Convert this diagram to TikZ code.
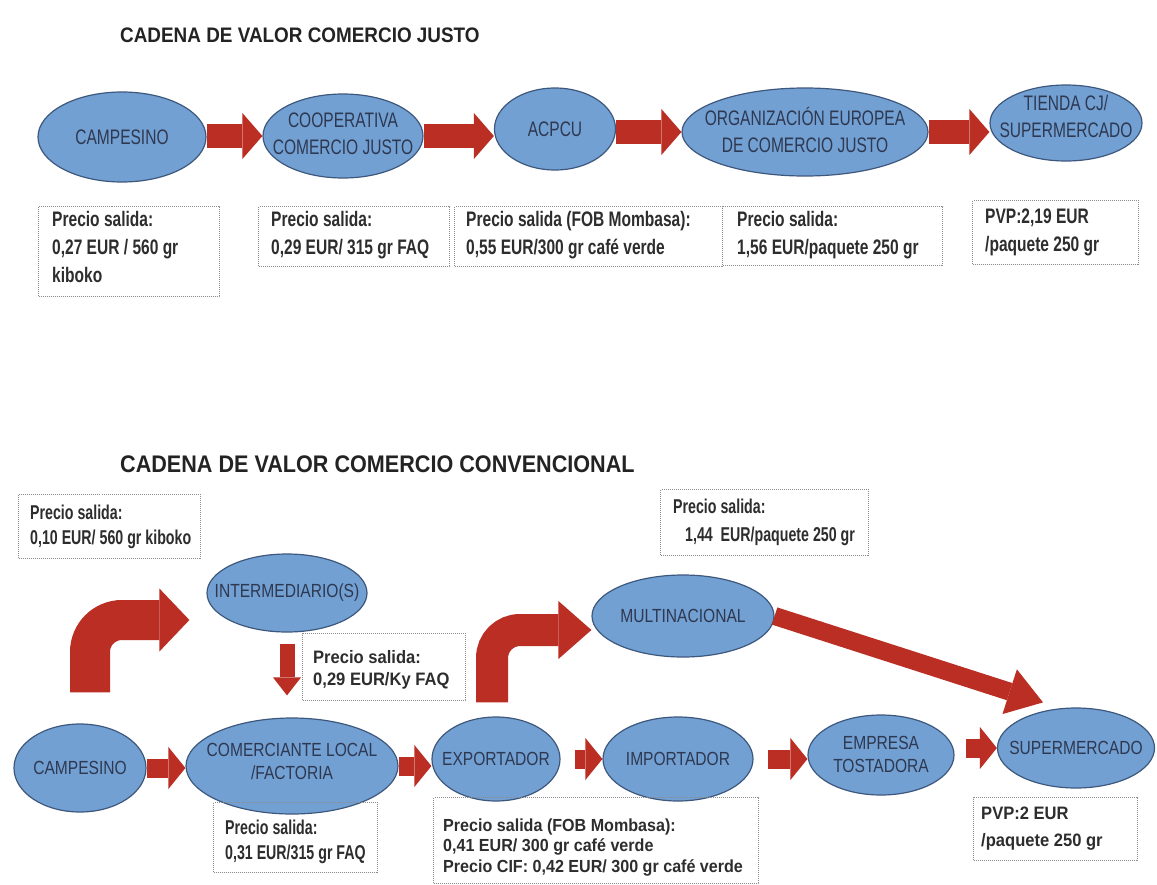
\documentclass[tikz,border=0pt]{standalone}
\usepackage{fontspec}
\setmainfont{Liberation Sans}
\newfontfamily\headfont[FakeStretch=0.9]{Liberation Sans}
\newfontfamily\ovaltopfont[FakeStretch=0.74]{Liberation Sans}
\newfontfamily\ovalbotfont[FakeStretch=0.82]{Liberation Sans}
\newfontfamily\notetopfont[FakeStretch=0.74]{Liberation Sans}
\newfontfamily\notebotfont[FakeStretch=0.92]{Liberation Sans}
\newfontfamily\notenarrowfont[FakeStretch=0.71]{Liberation Sans}
\usetikzlibrary{arrows.meta,shapes.geometric}

\definecolor{ovalfill}{RGB}{114,160,211}
\definecolor{ovalline}{RGB}{62,88,125}
\definecolor{ovaltext}{RGB}{46,56,80}
\definecolor{flowred}{RGB}{186,46,36}
\definecolor{boxline}{RGB}{140,140,140}
\definecolor{boxtext}{RGB}{45,45,45}
\definecolor{headgray}{RGB}{35,35,35}

\begin{document}
\begin{tikzpicture}[x=1pt,y=-1pt,
  oval/.style={ellipse, draw=ovalline, line width=1.2pt, fill=ovalfill, inner sep=0pt},
  otop/.style={font=\ovaltopfont\fontsize{21}{27}\selectfont, text=ovaltext, align=center, inner sep=0pt},
  obot/.style={font=\ovalbotfont\fontsize{19}{23}\selectfont, text=ovaltext, align=center, inner sep=0pt},
  pricebox/.style={draw=boxline, densely dotted, line width=1pt, anchor=north west, inner sep=0pt},
  ptxt/.style={anchor=west, inner sep=0pt, align=left, text=boxtext},
  ptop/.style={ptxt, font=\notetopfont\bfseries\fontsize{21}{28}\selectfont},
  pbot/.style={ptxt, font=\notebotfont\bfseries\fontsize{18}{25}\selectfont},
  pnarrow/.style={ptxt, font=\notenarrowfont\bfseries\fontsize{20}{25}\selectfont},
  head/.style={anchor=west, inner sep=0pt, text=headgray},
  flowtop/.style={draw=flowred, line width=24pt, -{Triangle[length=20pt,width=46pt,line width=0pt]}},
  flowbot/.style={draw=flowred, line width=19pt, -{Triangle[length=17pt,width=42pt,line width=0pt]}},
  bentflow/.style={draw=flowred, -{Triangle[length=#1,line width=0pt]}},
]
\fill[white] (0,0) rectangle (1157,884);
\useasboundingbox (0,0) rectangle (1157,884);

% ---------- fair trade chain ----------
\node[head, font=\headfont\bfseries\fontsize{21}{25}\selectfont] (title1) at (120,35) {CADENA DE VALOR COMERCIO JUSTO};

\node[oval, minimum width=168pt, minimum height=90pt, label={[otop]center:CAMPESINO}] (camp1) at (122,137) {};
\node[oval, minimum width=160pt, minimum height=84pt, label={[otop, yshift=2pt]center:{COOPERATIVA\\COMERCIO JUSTO}}] (coop) at (343,136) {};
\node[oval, minimum width=121pt, minimum height=82pt, label={[otop]center:ACPCU}] (acpcu) at (555,129) {};
\node[oval, minimum width=246pt, minimum height=88pt, label={[otop, yshift=2pt]center:{ORGANIZACIÓN EUROPEA\\DE COMERCIO JUSTO}}] (oecj) at (805,132) {};
\node[oval, minimum width=152pt, minimum height=76pt, label={[otop, yshift=7pt]center:{TIENDA CJ/\\SUPERMERCADO}}] (tienda) at (1066,123) {};

\draw[flowtop] (camp1.east |- coop.west) -- (coop.west);
\draw[flowtop] (coop.east) -- (coop.east -| acpcu.west);
\draw[flowtop] (acpcu.east |- oecj.west) -- (oecj.west);
\draw[flowtop] (oecj.east) -- (oecj.east -| tienda.west);

\node[pricebox, minimum width=181pt, minimum height=90pt] (pt1) at (38,206) {};
\node[ptop] (pt1txt) at ([xshift=14pt, yshift=5pt]pt1.west) {Precio salida:\\0,27 EUR / 560 gr\\kiboko};
\node[pricebox, minimum width=191pt, minimum height=60pt] (pt2) at (258,206) {};
\node[ptop] (pt2txt) at ([xshift=13pt, yshift=1pt]pt2.west) {Precio salida:\\0,29 EUR/ 315 gr FAQ};
\node[pricebox, minimum width=268pt, minimum height=60pt] (pt3) at (454,206) {};
\node[ptop] (pt3txt) at ([xshift=12pt, yshift=1pt]pt3.west) {Precio salida (FOB Mombasa):\\0,55 EUR/300 gr café verde};
\node[pricebox, minimum width=220pt, minimum height=59pt] (pt4) at (722,206) {};
\node[ptop] (pt4txt) at ([xshift=15pt, yshift=1pt]pt4.west) {Precio salida:\\1,56 EUR/paquete 250 gr};
\node[pricebox, minimum width=166pt, minimum height=64pt] (pt5) at (972,200) {};
\node[ptop] (pt5txt) at ([xshift=13pt]pt5.west) {PVP:2,19 EUR\\/paquete 250 gr};

% ---------- conventional chain ----------
\node[head, font=\headfont\bfseries\fontsize{24}{28}\selectfont] (title2) at (120,464) {CADENA DE VALOR COMERCIO CONVENCIONAL};

\node[pricebox, minimum width=182pt, minimum height=64pt] (pb1) at (18,494) {};
\node[pnarrow] (pb1txt) at ([xshift=12pt]pb1.west) {Precio salida:\\0,10 EUR/ 560 gr kiboko};
\node[pricebox, minimum width=208pt, minimum height=66pt] (pb2) at (660,489) {};
\node[pnarrow, font=\notenarrowfont\bfseries\fontsize{20}{28}\selectfont] (pb2txt) at ([xshift=13pt]pb2.west)
  {Precio salida:\\\hspace*{12pt}1,44\ \ EUR/paquete 250 gr};

\node[oval, minimum width=160pt, minimum height=78pt, label={[obot]center:INTERMEDIARIO(S)}] (inter) at (287,593) {};
\node[oval, minimum width=182pt, minimum height=82pt, label={[obot]center:MULTINACIONAL}] (multi) at (683,616) {};

\node[pricebox, minimum width=163pt, minimum height=67pt] (pb3) at (302,633) {};
\node[pbot, font=\notebotfont\bfseries\fontsize{18}{22}\selectfont] (pb3txt) at ([xshift=11pt, yshift=-3pt]pb3.west)
  {Precio salida:\\0,29 EUR/Ky FAQ};

\node[oval, minimum width=132pt, minimum height=88pt, label={[obot]center:CAMPESINO}] (camp2) at (80,768) {};
\node[oval, minimum width=212pt, minimum height=96pt, label={[obot, yshift=5pt]center:{COMERCIANTE LOCAL\\/FACTORIA}}] (comer) at (292,766) {};
\node[oval, minimum width=128pt, minimum height=84pt, label={[obot]center:EXPORTADOR}] (expo) at (496,759) {};
\node[oval, minimum width=150pt, minimum height=84pt, label={[obot]center:IMPORTADOR}] (impo) at (678,759) {};
\node[oval, minimum width=146pt, minimum height=80pt, label={[obot, yshift=1pt]center:{EMPRESA\\TOSTADORA}}] (tost) at (881,755) {};
\node[oval, minimum width=157pt, minimum height=80pt, label={[obot]center:SUPERMERCADO}] (super) at (1076,748) {};

\draw[flowbot] (camp2.east) -- (camp2.east -| comer.west);
\draw[flowbot] (comer.east) -- (comer.east -| expo.west);
\draw[flowbot, shorten <=14pt] (expo.east) -- (expo.east -| impo.west);
\draw[flowbot, shorten <=14pt] (impo.east) -- (impo.east -| tost.west);
\draw[flowbot, shorten <=11pt] (tost.east |- super.west) -- (super.west);

% bent arrows up to the intermediary and the multinational
\draw[bentflow={30pt,width=63pt}, line width=40pt, rounded corners=32pt]
  ([xshift=10pt,yshift=31pt]camp2.north) |- ([xshift=-17pt,yshift=-27pt]inter.west);
\draw[bentflow={33pt,width=58pt}, line width=32pt, rounded corners=28pt]
  ([xshift=-4pt,yshift=14pt]expo.north) |- ([yshift=-14pt]multi.west);
% short drop from the intermediary to the local trader
\coordinate (drop) at (inter.south |- comer.north);
\draw[draw=flowred, line width=15pt, -{Triangle[length=18pt,width=28pt,line width=0pt]}]
  ([yshift=-11pt]inter.south) -- ([yshift=22pt]drop);
\draw[draw=flowred, line width=18pt, -{Triangle[length=35pt,width=47pt,line width=0pt]}]
  (multi.east) -- ([xshift=-33pt,yshift=5pt]super.north);

\node[pricebox, minimum width=164pt, minimum height=70pt] (pb4) at (213,802) {};
\node[pnarrow, font=\notenarrowfont\bfseries\fontsize{20}{25}\selectfont] (pb4txt) at ([xshift=12pt, yshift=-4pt]pb4.west)
  {Precio salida:\\0,31 EUR/315 gr FAQ};
\node[pricebox, minimum width=325pt, minimum height=86pt] (pb5) at (433,797) {};
\node[pbot, font=\notebotfont\bfseries\fontsize{17.5}{20.5}\selectfont] (pb5txt) at ([xshift=10pt, yshift=-7pt]pb5.west)
  {Precio salida (FOB Mombasa):\\0,41 EUR/ 300 gr café verde\\Precio CIF: 0,42 EUR/ 300 gr café verde};
\node[pricebox, minimum width=164pt, minimum height=63pt] (pb6) at (973,797) {};
\node[pbot, font=\notebotfont\bfseries\fontsize{18}{27}\selectfont] (pb6txt) at ([xshift=8pt]pb6.west)
  {PVP:2 EUR\\/paquete 250 gr};
\end{tikzpicture}
\end{document}
